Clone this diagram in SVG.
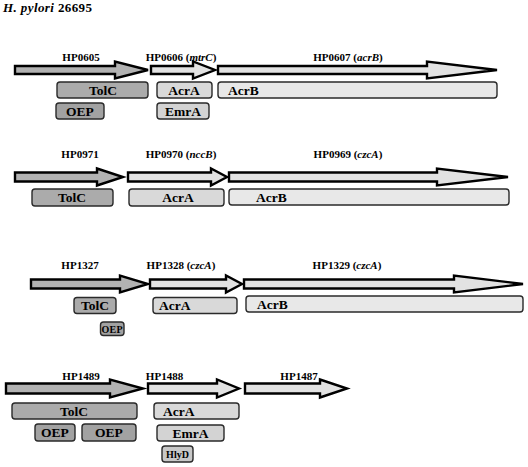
<svg xmlns="http://www.w3.org/2000/svg" width="528" height="467" viewBox="0 0 528 467">
<style>
text{font-family:"Liberation Serif","Times New Roman",serif;font-weight:bold;fill:#000}
.lbl{font-size:11px;text-anchor:middle}
.bt{font-size:13.5px}
.c{text-anchor:middle}
.sm{font-size:10px;text-anchor:middle}
.arr{stroke:#000;stroke-width:2.4;stroke-linejoin:miter}
.dk{fill:#b2b2b2}
.lt{fill:#e2e2e2}
.box{stroke:#2a2a2a;stroke-width:1.4}
.tolc{fill:#ababab}
.oep{fill:#a2a2a2}
.acra{fill:#d9d9d9}
.acrb{fill:#e8e8e8}
.emra{fill:#d3d3d3}
.hlyd{fill:#c8c8c8}
</style>
<rect width="528" height="467" fill="#fff"/>
<text x="3" y="12" font-size="13" textLength="89"><tspan font-style="italic">H. pylori</tspan> 26695</text>

<g id="row1">
<g id="HP0605"><polygon class="arr dk" points="15,66 115,66 115,61.5 148,70 115,78.5 115,74 15,74"/><text class="lbl" x="81" y="61">HP0605</text></g>
<g id="HP0606"><polygon class="arr lt" points="151,66 193,66 193,61.5 215,70 193,78.5 193,74 151,74"/><text class="lbl" x="181" y="61">HP0606 (<tspan font-style="italic">mtrC</tspan>)</text></g>
<g id="HP0607"><polygon class="arr lt" points="218,66 427,66 427,61.5 497,70 427,78.5 427,74 218,74"/><text class="lbl" x="348" y="61">HP0607 (<tspan font-style="italic">acrB</tspan>)</text></g>
<g id="r1-TolC"><rect class="box tolc" x="57" y="82" width="91" height="16" rx="3"/><text class="bt c" x="103" y="95">TolC</text></g>
<g id="r1-AcrA"><rect class="box acra" x="157" y="82" width="55" height="16" rx="3"/><text class="bt c" x="184" y="95">AcrA</text></g>
<g id="r1-AcrB"><rect class="box acrb" x="218" y="82" width="279" height="16" rx="3"/><text class="bt" x="228" y="95">AcrB</text></g>
<g id="r1-OEP"><rect class="box oep" x="56" y="103" width="48" height="16" rx="3"/><text class="bt c" x="80" y="116">OEP</text></g>
<g id="r1-EmrA"><rect class="box emra" x="157" y="103" width="52" height="16" rx="3"/><text class="bt c" x="183" y="116">EmrA</text></g>
</g>

<g id="row2">
<g id="HP0971"><polygon class="arr dk" points="15,172.5 97,172.5 97,168.5 123,177 97,185.5 97,181.5 15,181.5"/><text class="lbl" x="80" y="158">HP0971</text></g>
<g id="HP0970"><polygon class="arr lt" points="128,172.5 211,172.5 211,168.5 227,177 211,185.5 211,181.5 128,181.5"/><text class="lbl" x="181" y="158">HP0970 (<tspan font-style="italic">nccB</tspan>)</text></g>
<g id="HP0969"><polygon class="arr lt" points="229,172.5 437,172.5 437,168.5 508,177 437,185.5 437,181.5 229,181.5"/><text class="lbl" x="348" y="158">HP0969 (<tspan font-style="italic">czcA</tspan>)</text></g>
<g id="r2-TolC"><rect class="box tolc" x="32" y="189" width="81" height="17" rx="3"/><text class="bt c" x="72" y="202">TolC</text></g>
<g id="r2-AcrA"><rect class="box acra" x="129" y="189" width="95" height="17" rx="3"/><text class="bt c" x="178" y="202">AcrA</text></g>
<g id="r2-AcrB"><rect class="box acrb" x="229" y="189" width="280" height="16" rx="3"/><text class="bt" x="256" y="202">AcrB</text></g>
</g>

<g id="row3">
<g id="HP1327"><polygon class="arr dk" points="31,279.5 120,279.5 120,275.5 148,284 120,292.5 120,288.5 31,288.5"/><text class="lbl" x="80" y="269">HP1327</text></g>
<g id="HP1328"><polygon class="arr lt" points="150,279.5 226,279.5 226,275.5 242,284 226,292.5 226,288.5 150,288.5"/><text class="lbl" x="181" y="269">HP1328 (<tspan font-style="italic">czcA</tspan>)</text></g>
<g id="HP1329"><polygon class="arr lt" points="244,279.5 454,279.5 454,275.5 523,284 454,292.5 454,288.5 244,288.5"/><text class="lbl" x="347" y="269">HP1329 (<tspan font-style="italic">czcA</tspan>)</text></g>
<g id="r3-TolC"><rect class="box tolc" x="74" y="297.5" width="42" height="16" rx="3"/><text class="bt c" x="95" y="310">TolC</text></g>
<g id="r3-AcrA"><rect class="box acra" x="153" y="297.5" width="84" height="16" rx="3"/><text class="bt" x="159" y="310">AcrA</text></g>
<g id="r3-AcrB"><rect class="box acrb" x="246" y="296" width="277" height="16" rx="3"/><text class="bt" x="257" y="309">AcrB</text></g>
<g id="r3-OEP"><rect class="box oep" x="100.5" y="322" width="23.5" height="13.5" rx="3"/><text class="sm" x="112" y="332.5" font-size="9.5" textLength="21">OEP</text></g>
</g>

<g id="row4">
<g id="HP1489"><polygon class="arr dk" points="6,383.5 110,383.5 110,379.5 143,388.5 110,397.5 110,393.5 6,393.5"/><text class="lbl" x="81" y="380">HP1489</text></g>
<g id="HP1488"><polygon class="arr lt" points="148,383.5 217,383.5 217,379.5 239,388.5 217,397.5 217,393.5 148,393.5"/><text class="lbl" x="164.5" y="380">HP1488</text></g>
<g id="HP1487"><polygon class="arr lt" points="245,383.5 320,383.5 320,379.5 347,388.5 320,397.5 320,393.5 245,393.5"/><text class="lbl" x="299" y="380">HP1487</text></g>
<g id="r4-TolC"><rect class="box tolc" x="12" y="403" width="125" height="16" rx="3"/><text class="bt c" x="74" y="416">TolC</text></g>
<g id="r4-AcrA"><rect class="box acra" x="154" y="403" width="85" height="16" rx="3"/><text class="bt" x="163" y="416">AcrA</text></g>
<g id="r4-OEP1"><rect class="box oep" x="35" y="424" width="40" height="17" rx="3"/><text class="bt c" x="55" y="437">OEP</text></g>
<g id="r4-OEP2"><rect class="box oep" x="82" y="424" width="54" height="17" rx="3"/><text class="bt c" x="109" y="437">OEP</text></g>
<g id="r4-EmrA"><rect class="box emra" x="157" y="425" width="67" height="16" rx="3"/><text class="bt c" x="190.5" y="438">EmrA</text></g>
<g id="r4-HlyD"><rect class="box hlyd" x="162" y="446" width="31" height="16" rx="3"/><text class="sm" x="177.5" y="458" font-size="11">HlyD</text></g>
</g>
<g id="connectors"/>
</svg>
